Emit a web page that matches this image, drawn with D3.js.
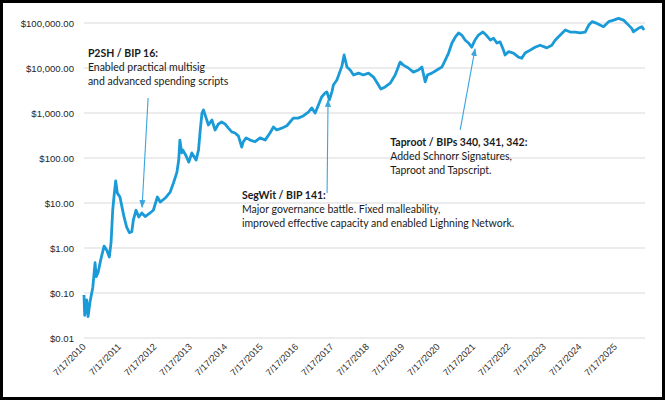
<!DOCTYPE html>
<html>
<head>
<meta charset="utf-8">
<script src="https://cdn.jsdelivr.net/npm/d3@7"></script>
<style>
  body { margin: 0; background: #fff; }
  #viz svg { display: block; }
</style>
</head>
<body>
<div id="viz"></div>
<script>
// Daily BTC price (date, USD)
const dates = [
  "2010-07-17","2010-07-24","2010-08-14","2010-08-28","2010-09-17","2010-10-16","2010-11-08","2010-11-20","2010-12-10",
  "2011-01-05","2011-02-09","2011-03-08","2011-04-04","2011-04-22","2011-05-09","2011-05-26","2011-06-09","2011-06-26",
  "2011-07-23","2011-08-13","2011-09-03","2011-09-30","2011-10-28","2011-11-22","2011-12-08",
  "2012-01-05","2012-02-02","2012-03-04","2012-04-08","2012-05-28","2012-07-01","2012-08-12","2012-09-10","2012-11-01","2012-12-22",
  "2013-01-25","2013-03-01","2013-03-20","2013-04-01","2013-04-20","2013-05-01","2013-05-30","2013-07-02","2013-08-02",
  "2013-09-15","2013-10-10","2013-10-28","2013-11-15","2013-11-30","2013-12-28",
  "2014-01-20","2014-02-25","2014-03-30","2014-05-03","2014-06-06","2014-07-10","2014-08-14","2014-09-18","2014-10-21",
  "2014-11-25","2014-12-30",
  "2015-01-15","2015-02-13","2015-03-27","2015-05-17","2015-07-07","2015-08-28","2015-10-17","2015-11-22","2015-12-26",
  "2016-02-15","2016-04-08","2016-05-11","2016-06-14","2016-08-03","2016-09-24","2016-11-16","2016-12-21",
  "2017-01-25","2017-02-28","2017-04-02","2017-05-08","2017-05-26","2017-06-21","2017-07-17","2017-08-01","2017-09-06",
  "2017-10-02","2017-10-28","2017-11-20","2017-12-19",
  "2018-01-21","2018-02-25","2018-04-17","2018-06-07","2018-07-29","2018-09-19","2018-11-09","2018-12-04",
  "2019-01-17","2019-03-10","2019-04-30","2019-06-04","2019-06-21","2019-07-24","2019-09-14","2019-11-04","2019-12-26",
  "2020-01-31","2020-03-05","2020-03-28","2020-05-12","2020-07-04","2020-08-24","2020-09-28","2020-11-01","2020-12-06",
  "2021-01-10","2021-02-13","2021-03-17","2021-04-20","2021-05-25","2021-06-28","2021-08-01","2021-09-05","2021-10-21","2021-11-24",
  "2022-01-05","2022-02-08","2022-03-14","2022-04-17","2022-05-21","2022-06-07","2022-07-12","2022-09-01","2022-10-23",
  "2022-11-26","2022-12-30",
  "2023-02-21","2023-04-12","2023-06-03","2023-08-12","2023-10-02","2023-11-07","2023-12-28",
  "2024-02-18","2024-04-09","2024-05-30","2024-07-21","2024-09-10","2024-10-17","2024-11-20",
  "2025-01-10","2025-03-18","2025-05-10","2025-07-01","2025-08-20","2025-10-10","2025-11-14",
  "2026-01-03","2026-01-20","2026-03-13","2026-04-17","2026-05-10"
]
const prices = [
  0.09,0.032,0.07,0.03,0.063,0.135,0.47,0.23,0.29,
  0.54,1.1,0.9,0.63,1.3,6.9,16.6,31,16.6,
  13.6,8.1,4.9,2.9,2.2,2.3,4.2,
  6.9,4.9,6.0,5.0,6.0,6.9,13.6,10.5,12.9,17.5,
  28,48,90,250,130,150,117,81,130,
  90,150,420,1000,1170,770,
  540,700,420,570,630,570,460,380,360,
  310,175,
  230,280,250,230,280,250,360,490,420,
  460,520,630,770,770,860,1050,1300,
  1000,1500,2270,2800,2950,1950,2950,4200,5400,
  7700,11000,19500,10500,
  9000,7000,7700,7000,7700,6300,4200,3400,
  3800,4600,7000,11000,13500,11600,10000,8100,9000,
  10500,4900,7000,7700,9000,10500,15000,21500,36000,
  49000,60000,54000,42000,36000,29000,42000,54000,63000,54000,
  42000,46000,36000,38000,25000,19500,23000,21500,17500,
  16500,21500,
  25000,29000,32000,28000,32000,42000,54000,
  70000,63000,63000,60000,63000,90000,107000,
  98000,83000,107000,116000,127000,116000,98000,
  76000,64000,76000,83000,70000
]

// Y axis gridline values
const yTicks = [0.01, 0.1, 1, 10, 100, 1000, 10000, 100000]
// X axis tick years (7/17 of each)
const tickYears = d3.range(2010, 2026)

// Annotations: arrow tip / tail and text anchor, in data terms
const noteTitles = ["P2SH / BIP 16:", "SegWit / BIP 141:", "Taproot / BIPs 340, 341, 342:"]
const noteLines = [
  ["Enabled practical multisig", "and advanced spending scripts"],
  ["Major governance battle. Fixed malleability,", "improved effective capacity and enabled Lighning Network."],
  ["Added Schnorr Signatures,", "Taproot and Tapscript."]
]
const noteTip = [["2012-03-07", 8.1], ["2017-06-07", 1950], ["2021-08-01", 26500]]
const noteTail = [["2012-05-08", 2150], ["2017-05-28", 16.6], ["2021-03-01", 420]]
const noteText = [["2010-08-26", 17500], ["2015-01-01", 12.3], ["2019-03-10", 185]]

const width = 665
const height = 400
const parse = d3.utcParse("%Y-%m-%d")

const data = dates.map((d, i) => ({ date: parse(d), price: prices[i] }))

const svg = d3.select("#viz").append("svg")
  .attr("width", width)
  .attr("height", height)

const x = d3.scaleUtc()
  .domain([parse("2010-07-17"), parse("2026-05-20")])
  .range([84, 645])

const y = d3.scaleLog()
  .domain([0.01, 100000])
  .range([338, 23])

// gridlines
svg.append("g")
  .selectAll("line")
  .data(yTicks)
  .join("line")
    .attr("x1", x.range()[0])
    .attr("x2", x.range()[1])
    .attr("y1", d => y(d))
    .attr("y2", d => y(d))
    .attr("stroke", "#d9d9d9")
    .attr("stroke-width", 1)

// y axis labels
const yAxis = svg.append("g")
  .attr("transform", `translate(${x.range()[0]},0)`)
  .call(d3.axisLeft(y).tickValues(yTicks).tickSize(0).tickPadding(10)
    .tickFormat(d => "$" + d3.format(",.2f")(d)))
yAxis.select(".domain").remove()
yAxis.selectAll("text")
  .attr("font-family", "Liberation Sans, Arial, sans-serif")
  .attr("font-size", 9.6)
  .attr("fill", "#262626")

// x axis labels
const xTickDates = tickYears.map(yr => parse(yr + "-07-17"))
svg.append("g")
  .selectAll("text")
  .data(xTickDates)
  .join("text")
    .attr("transform", d => `translate(${x(d)},${345}) rotate(-45)`)
    .attr("text-anchor", "end")
    .attr("dy", "0.35em")
    .attr("font-family", "Liberation Sans, Arial, sans-serif")
    .attr("font-size", 9.3)
    .attr("fill", "#333")
    .text(d3.utcFormat("%-m/%-d/%Y"))

// price line
const line = d3.line()
  .x(d => x(d.date))
  .y(d => y(d.price))

svg.append("path")
  .datum(data)
  .attr("d", line)
  .attr("fill", "none")
  .attr("stroke", "#1a9bd7")
  .attr("stroke-width", 2.8)
  .attr("stroke-linejoin", "round")

// arrowhead
svg.append("defs").append("marker")
  .attr("id", "head")
  .attr("viewBox", "0 0 10 10")
  .attr("refX", 9).attr("refY", 5)
  .attr("markerWidth", 7).attr("markerHeight", 7)
  .attr("orient", "auto")
  .append("path")
    .attr("d", "M0,1L10,5L0,9Z")
    .attr("fill", "#3aa5dc")

// annotation arrows
svg.append("g")
  .selectAll("line")
  .data(noteTip)
  .join("line")
    .attr("x1", (d, i) => x(parse(noteTail[i][0])))
    .attr("y1", (d, i) => y(noteTail[i][1]))
    .attr("x2", d => x(parse(d[0])))
    .attr("y2", d => y(d[1]))
    .attr("stroke", "#3aa5dc")
    .attr("stroke-width", 1.1)
    .attr("marker-end", "url(#head)")

// annotation text
const notes = svg.append("g")
  .attr("font-family", "Lato, sans-serif")
  .attr("font-size", 10.5)
  .attr("fill", "#1a1a1a")
  .selectAll("text")
  .data(noteText)
  .join("text")
    .attr("x", d => x(parse(d[0])))
    .attr("y", d => y(d[1]))

notes.append("tspan")
  .attr("font-weight", "bold")
  .text((d, i) => noteTitles[i])

notes.each(function(d, i) {
  const t = d3.select(this)
  noteLines[i].forEach(s => {
    t.append("tspan")
      .attr("x", x(parse(d[0])))
      .attr("dy", 14)
      .text(s)
  })
})

// outer frame
svg.append("rect")
  .attr("x", 1.5).attr("y", 1.5)
  .attr("width", width - 3).attr("height", height - 3)
  .attr("fill", "none")
  .attr("stroke", "#000")
  .attr("stroke-width", 3)
</script>
</body>
</html>
